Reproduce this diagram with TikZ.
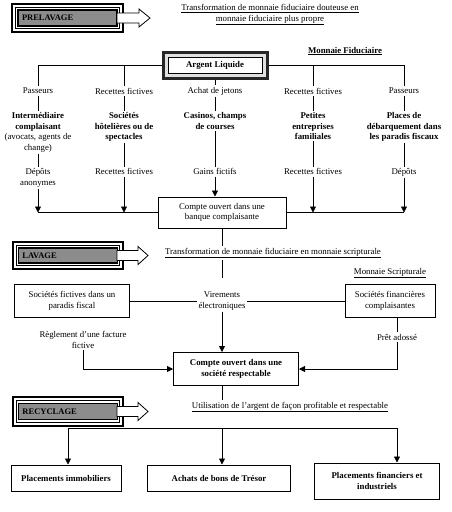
\documentclass[tikz,border=0pt]{standalone}
\usepackage{fontspec}
\setmainfont{Liberation Serif}
\usetikzlibrary{arrows.meta,calc}
\newcommand\dfs{\fontsize{8.8}{10.4}\selectfont}
\tikzset{
  lbl/.style={font=\dfs, align=center, inner sep=1.5pt},
  blbl/.style={font=\dfs\bfseries, align=center, inner sep=1.5pt},
  boxn/.style={draw, line width=1pt, align=center, font=\dfs, fill=white, inner sep=2pt},
  conn/.style={line width=0.8pt},
  arr/.style={conn, -{Triangle[length=6pt,width=6pt]}},
  phase/.style={draw, line width=1.3pt, fill=black!45, font=\fontsize{8.5}{10}\selectfont\bfseries,
     text width=91pt, align=left, inner sep=4pt, minimum height=16pt},
  phouter/.style={line width=2.2pt},
  phinner/.style={line width=0.6pt},
  pharrow/.style={draw, fill=white, line width=0.8pt},
}
\begin{document}
\begin{tikzpicture}[x=1pt,y=-1pt]
\useasboundingbox (0,0) rectangle (451,512);
\fill[white] (0,0) rectangle (451,512);

% ---------- PRELAVAGE ----------
\draw[phouter] (12,4) rectangle (123,32);
\draw[phinner] (15.5,7.5) rectangle (119.5,28.5);
\node[phase] (pre) at (67.5,18) {PRELAVAGE};
\filldraw[pharrow] (117,13) -- (139,13) -- (139,9) -- (150,18) -- (139,27) -- (139,23) -- (117,23) -- cycle;
\node[lbl] (t1) at (270,15) {\underline{Transformation de monnaie fiduciaire douteuse en}\\\underline{monnaie fiduciaire plus propre}};

\node[blbl] (mf) at (345,51) {\underline{Monnaie Fiduciaire}};

\node[draw=black!85, line width=3pt, fill=black!12, minimum width=104pt, minimum height=26pt] (argent) at (215,65) {};
\node[draw, line width=0.6pt, fill=white, minimum width=94pt, minimum height=16pt, font=\dfs\bfseries] (argin) at (215,65) {Argent Liquide};

% row 1 labels
\node[lbl] (pa1) at (38,91) {Passeurs};
\node[lbl] (rf1) at (124,91) {Recettes fictives};
\node[lbl] (aj)  at (215,91) {Achat de jetons};
\node[lbl] (rf2) at (313,91) {Recettes fictives};
\node[lbl] (pa2) at (404,91) {Passeurs};

\draw[conn] (argent.west) -| (pa1.north);
\draw[conn] (argent.east) -| (pa2.north);
\draw[conn] (rf1.north |- argent.west) -- (rf1.north);
\draw[conn] (rf2.north |- argent.east) -- (rf2.north);
\draw[conn] (argent.south) -- (aj.north);

% bold labels
\node[blbl, anchor=north] (b1) at (38,111) {Intermédiaire\\complaisant\\\mdseries(avocats, agents de\\\mdseries change)};
\node[blbl, anchor=north] (b2) at (124,111) {Sociétés\\hôtelières ou de\\spectacles};
\node[blbl, anchor=north] (b3) at (215,111) {Casinos, champs\\de courses};
\node[blbl, anchor=north] (b4) at (313,111) {Petites\\entreprises\\familiales};
\node[blbl, anchor=north] (b5) at (404,111) {Places de\\débarquement dans\\les paradis fiscaux};

\draw[conn] (pa1.south) -- (b1.north);
\draw[conn] (rf1.south) -- (b2.north);
\draw[conn] (aj.south) -- (b3.north);
\draw[conn] (rf2.south) -- (b4.north);
\draw[conn] (pa2.south) -- (b5.north);

% second labels
\node[lbl, anchor=north] (d1) at (38,167) {Dépôts\\anonymes};
\node[lbl, anchor=north] (d2) at (124,167) {Recettes fictives};
\node[lbl, anchor=north] (d3) at (215,167) {Gains fictifs};
\node[lbl, anchor=north] (d4) at (313,167) {Recettes fictives};
\node[lbl, anchor=north] (d5) at (404,167) {Dépôts};

\draw[conn] (b1.south) -- (d1.north);
\draw[conn] (b2.south) -- (d2.north);
\draw[conn] (b3.south) -- (d3.north);
\draw[conn] (b4.south) -- (d4.north);
\draw[conn] (b5.south) -- (d5.north);

\node[boxn, minimum width=128pt, minimum height=31pt] (banque) at (222,212.5) {Compte ouvert dans une\\banque complaisante};

\coordinate (j1) at (d1.south |- banque.west);
\coordinate (j2) at (d2.south |- banque.west);
\coordinate (j4) at (d4.south |- banque.east);
\coordinate (j5) at (d5.south |- banque.east);
\draw[arr] (d1.south) -- (j1);
\draw[arr] (d2.south) -- (j2);
\draw[arr] (d4.south) -- (j4);
\draw[arr] (d5.south) -- (j5);
\draw[arr] (d3.south) -- (d3.south |- banque.north);
\draw[conn] (j1) -- (banque.west);
\draw[conn] (banque.east) -- (j5);

% ---------- LAVAGE ----------
\draw[phouter] (13,242) rectangle (123,269);
\draw[phinner] (16.5,245.5) rectangle (119.5,265.5);
\node[phase, minimum height=15pt] (lav) at (68,255.5) {LAVAGE};
\filldraw[pharrow] (117,250.5) -- (138,250.5) -- (138,246.5) -- (148,255.5) -- (138,264.5) -- (138,260.5) -- (117,260.5) -- cycle;

\node[lbl] (t2) at (273,253) {\underline{Transformation de monnaie fiduciaire en monnaie scripturale}};
\node[lbl] (ms) at (390,273) {\underline{Monnaie Scripturale}};

\node[lbl] (vir) at (222,301) {Virements\\électroniques};
\node[boxn, minimum width=115pt, minimum height=33pt] (sfp) at (72,301) {Sociétés fictives dans un\\paradis fiscal};
\node[boxn, minimum width=90pt, minimum height=33pt] (sfc) at (390,301) {Sociétés financières\\complaisantes};

\draw[conn] (vir |- banque.south) -- (vir |- t2.north);
\draw[conn, shorten >=12pt] (vir |- t2.south) -- (vir.north);
\draw[conn] (sfp.east) -- (vir.west);
\draw[conn] (vir.east) -- (sfc.west);

\node[lbl] (reg) at (83,340) {Règlement d'une facture\\fictive};
\node[lbl] (pret) at (397,337) {Prêt adossé};

\node[boxn, font=\dfs\bfseries, minimum width=125pt, minimum height=33pt] (soc) at (236,369) {Compte ouvert dans une\\société respectable};

\draw[arr] (vir.south) -- (vir.south |- soc.north);
\draw[arr] (reg.south) |- (soc.west);
\draw[conn] (pret.north |- sfc.south) -- (pret.north);
\draw[arr] (pret.south) |- (soc.east);

% ---------- RECYCLAGE ----------
\draw[phouter] (13,397) rectangle (123,426);
\draw[phinner] (16.5,400.5) rectangle (119.5,422.5);
\node[phase] (rec) at (68,411.5) {RECYCLAGE};
\filldraw[pharrow] (117,406.5) -- (138,406.5) -- (138,402.5) -- (148,411.5) -- (138,420.5) -- (138,416.5) -- (117,416.5) -- cycle;

\node[lbl] (t3) at (290,407) {\underline{Utilisation de l'argent de façon profitable et respectable}};
\draw[conn] (vir |- soc.south) -- (vir |- t3.north);

\node[boxn, font=\dfs\bfseries, minimum width=110pt, minimum height=26pt] (pi) at (66,478) {Placements immobiliers};
\node[boxn, font=\dfs\bfseries, minimum width=143pt, minimum height=26pt] (ab) at (219,478) {Achats de bons de Trésor};
\node[boxn, font=\dfs\bfseries, minimum width=125pt, minimum height=36pt] (pf) at (377,481) {Placements financiers et\\industriels};

\coordinate (h1) at (68,428);
\coordinate (h2) at (222,428);
\coordinate (h3) at (397,428);
\draw[conn] (h1) -- (h3);
\draw[arr] (h1) -- (h1 |- pi.north);
\draw[arr] (h2) -- (h2 |- ab.north);
\draw[arr] (h3) -- (h3 |- pf.north);
\end{tikzpicture}
\end{document}
